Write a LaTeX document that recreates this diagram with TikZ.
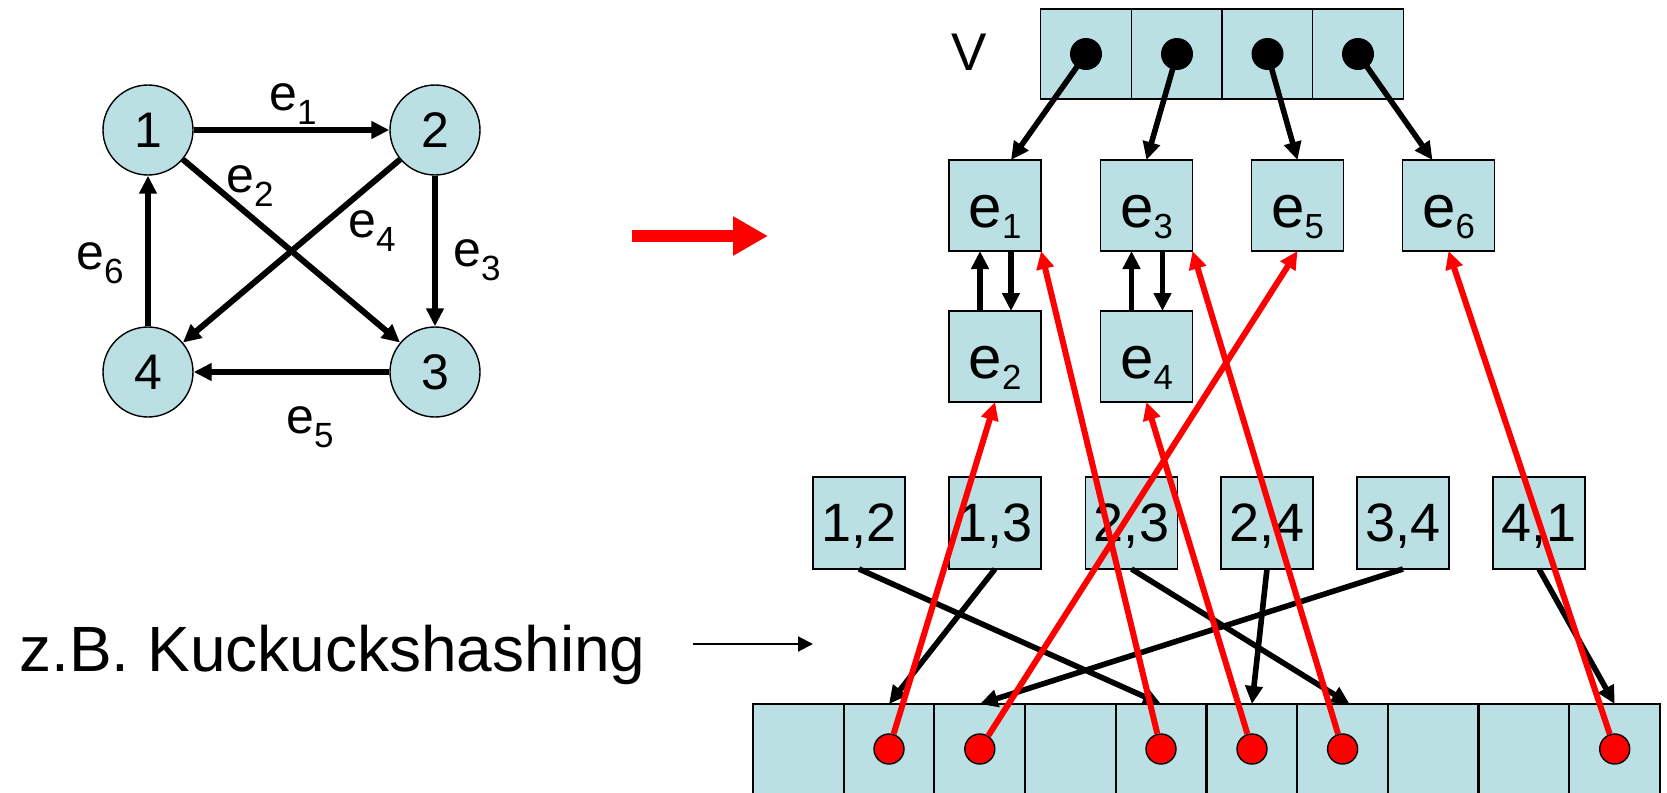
\documentclass[tikz,border=0pt]{standalone}
\usepackage{fontspec}
\setmainfont{Liberation Sans}
\usepackage{graphicx}
\usetikzlibrary{arrows.meta}
\definecolor{boxblue}{RGB}{186,224,227}
\newcommand{\elbl}[1]{e\raisebox{-0.27em}{\scalebox{0.7}{#1}}}
\newcommand{\elem}[1]{e\raisebox{-0.17em}{\scalebox{0.58}{#1}}}

\begin{document}
\begin{tikzpicture}[x=0.5pt,y=-0.5pt,>={Triangle[length=9pt,width=8.5pt]}]
        \tikzstyle{vertex}=[circle,draw=black,line width=0.7pt,fill=boxblue,minimum size=45pt,inner sep=0pt,font=\fontsize{25}{30}\selectfont]
        \tikzstyle{gedge}=[->,line width=3pt]
        \tikzstyle{glabel}=[inner sep=0pt,font=\fontsize{25}{30}\selectfont]
        \tikzstyle{cell}=[rectangle,draw=black,line width=0.9pt,fill=boxblue,inner sep=0pt,outer sep=0pt]
        \tikzstyle{vcell}=[cell,minimum width=45.5pt,minimum height=45pt]
        \tikzstyle{entry}=[cell,minimum width=46pt,minimum height=45.5pt,font=\fontsize{30}{36}\selectfont,text height=27.4pt,text depth=5pt]
        \tikzstyle{pair}=[cell,minimum size=46pt,font=\fontsize{27}{32}\selectfont,text depth=0pt]
        \tikzstyle{slot}=[cell,minimum width=45.35pt,minimum height=73pt]
        \tikzstyle{vdot}=[circle,fill=black,minimum size=16pt,inner sep=0pt]
        \tikzstyle{reddot}=[circle,draw=black,line width=0.7pt,fill=red,minimum size=15pt,inner sep=0pt]
        \tikzstyle{ptr}=[->,line width=2.8pt]
        \tikzstyle{redptr}=[->,draw=red,line width=3pt]
       \useasboundingbox (0,0) rectangle (1667,793);
       \clip (0,0) rectangle (1667,793);
       % graph
       \begin{scope}
         \node [vertex] (n1) at (148,130) {1};
         \node [vertex] (n2) at (435,130) {2};
         \node [vertex] (n3) at (435,372) {3};
         \node [vertex] (n4) at (148,372) {4};
         \draw[gedge] (n1) -- (n2);
         \draw[gedge] (n1) -- (n3);
         \draw[gedge] (n2) -- (n4);
         \draw[gedge] (n2) -- (n3);
         \draw[gedge] (n3) -- (n4);
         \draw[gedge] (n4) -- (n1);
         \node [glabel] (le1) at (293,104) {\elbl{1}};
         \node [glabel] (le2) at (250,186) {\elbl{2}};
         \node [glabel] (le4) at (372,231) {\elbl{4}};
         \node [glabel] (le3) at (477,260) {\elbl{3}};
         \node [glabel] (le6) at (100,263) {\elbl{6}};
         \node [glabel] (le5) at (310,427) {\elbl{5}};
       \end{scope}
       % red arrow
       \coordinate (go1) at (632,236);
       \coordinate (go2) at (768,236);
       \draw[-{Triangle[length=17.5pt,width=18.5pt]},draw=red,fill=red,line width=6pt] (go1) -- (go2);
       % vertex array and edge lists
       \begin{scope}
         \node [font=\fontsize{26.5}{32}\selectfont,inner sep=0pt] (vname) at (969,52) {V};
         \node [vcell] (v1) at (1086,54) {};
         \node [vcell] (v2) at (1177,54) {};
         \node [vcell] (v3) at (1267.5,54) {};
         \node [vcell] (v4) at (1358,54) {};
         \node [vdot] (p1) at (v1) {};
         \node [vdot] (p2) at (v2) {};
         \node [vdot] (p3) at (v3) {};
         \node [vdot] (p4) at (v4) {};
         \node [entry] (e1) at (995,205.5) {\elem{1}};
         \node [entry] (e3) at (1146.5,205.5) {\elem{3}};
         \node [entry] (e5) at (1297.5,205.5) {\elem{5}};
         \node [entry] (e6) at (1448.5,205.5) {\elem{6}};
         \node [entry] (e2) at (995,356.5) {\elem{2}};
         \node [entry] (e4) at (1146.5,356.5) {\elem{4}};
         \draw[ptr] (p1.center) -- ([xshift=8pt]e1.north);
         \draw[ptr] (p2.center) -- (e3.north);
         \draw[ptr] (p3.center) -- (e5.north);
         \draw[ptr] (p4.center) -- ([xshift=-8pt]e6.north);
         \draw[ptr] ([xshift=-7.5pt]e2.north) -- ([xshift=-7.5pt]e1.south);
         \draw[ptr] ([xshift=8pt]e1.south) -- ([xshift=8pt]e2.north);
         \draw[ptr] ([xshift=-7.5pt]e4.north) -- ([xshift=-7.5pt]e3.south);
         \draw[ptr] ([xshift=8pt]e3.south) -- ([xshift=8pt]e4.north);
       \end{scope}
       % hash table
       \begin{scope}
         \node [pair] (k12) at (859,523) {1,2};
         \node [pair] (k13) at (995,523) {1,3};
         \node [pair] (k23) at (1131.5,523) {2,3};
         \node [pair] (k24) at (1267,523) {2,4};
         \node [pair] (k34) at (1403,523) {3,4};
         \node [pair] (k41) at (1539,523) {4,1};
         \node [slot] (t1) at (798.4,777) {};
         \node [slot] (t2) at (889,777) {};
         \node [slot] (t3) at (979.8,777) {};
         \node [slot] (t4) at (1070.5,777) {};
         \node [slot] (t5) at (1161,777) {};
         \node [slot] (t6) at (1252,777) {};
         \node [slot] (t7) at (1342.6,777) {};
         \node [slot] (t8) at (1433,777) {};
         \node [slot] (t9) at (1524,777) {};
         \node [slot] (t10) at (1614.7,777) {};
         \node [reddot] (r2) at (889,749) {};
         \node [reddot] (r3) at (979.8,749) {};
         \node [reddot] (r5) at (1161,749) {};
         \node [reddot] (r6) at (1252,749) {};
         \node [reddot] (r7) at (1342.6,749) {};
         \node [reddot] (r10) at (1614.7,749) {};
         \draw[ptr] (k12.south) -- (t5.north);
         \draw[ptr] (k13.south) -- (t2.north);
         \draw[ptr] (k23.south) -- ([xshift=3.5pt]t7.north);
         \draw[ptr] (k24.south) -- (t6.north);
         \draw[ptr] (k34.south) -- (t3.north);
         \draw[ptr] (k41.south) -- (t10.north);
         \draw[redptr] (r2) -- (e2.south);
         \draw[redptr] (r3) -- (e5.south);
         \draw[redptr] (r5) -- (e1.south east);
         \draw[redptr] (r6) -- (e4.south);
         \draw[redptr] (r7) -- (e3.south east);
         \draw[redptr] (r10) -- (e6.south);
       \end{scope}
       % caption
       \node [anchor=base west,inner sep=0pt,font=\fontsize{32}{38}\selectfont] (zb) at (19,671) {z.B. Kuckuckshashing};
       \coordinate (h1) at (693,644);
       \coordinate (h2) at (813,644);
       \draw[-{Triangle[length=7.5pt,width=7.5pt]},line width=1pt] (h1) -- (h2);
      \end{tikzpicture}
\end{document}
